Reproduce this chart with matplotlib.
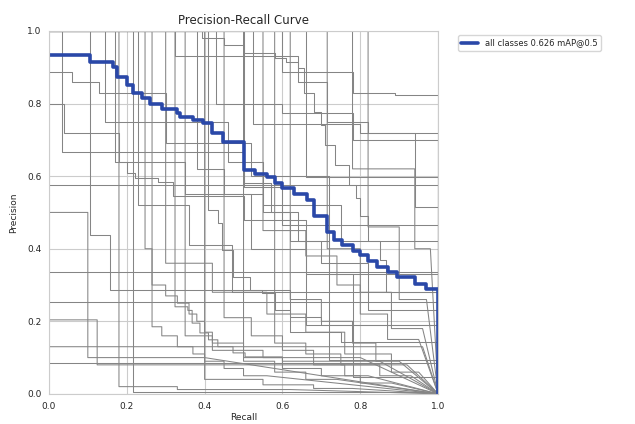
import matplotlib
matplotlib.use('Agg')
import matplotlib.pyplot as plt
import seaborn as sns

# all-classes curve (step edges in recall, precision on each step)
all_recall = [0, 0.105, 0.165, 0.175, 0.20, 0.216, 0.24, 0.26, 0.29, 0.33,
              0.337, 0.37, 0.396, 0.42, 0.447, 0.50, 0.53, 0.56, 0.58, 0.60,
              0.63, 0.663, 0.68, 0.714, 0.733, 0.753, 0.78, 0.80, 0.82, 0.843,
              0.87, 0.894, 0.94, 0.97, 1.0]
all_precision = [0.934, 0.915, 0.90, 0.873, 0.85, 0.829, 0.815, 0.80, 0.785, 0.774,
                 0.763, 0.755, 0.746, 0.72, 0.695, 0.617, 0.605, 0.598, 0.58, 0.567,
                 0.55, 0.534, 0.49, 0.446, 0.424, 0.41, 0.395, 0.383, 0.365, 0.35,
                 0.335, 0.322, 0.303, 0.29]
map50 = 0.626

# per-class curves
class_recall = [
    [0, 1.0],
    [0, 1.0],
    [0, 1.0],
    [0, 0.96],
    [0, 1.0],
    [0, 0.124, 0.92],
    [0, 0.105, 0.157, 0.62, 0.75, 1.0],
    [0, 0.033, 0.50, 0.60, 1.0],
    [0, 0.144, 0.46, 0.55, 0.75, 1.0],
    [0, 0.17, 0.20, 0.22, 0.28, 0.32, 0.50, 0.66, 1.0],
    [0, 0.216, 1.0],
    [0, 0.247, 0.265, 0.30, 0.33, 0.36, 0.38, 0.40, 0.42, 0.50, 0.55, 0.80],
    [0, 0.265, 0.29, 0.33, 0.37, 0.40, 0.45, 0.50, 0.56],
    [0, 0.324, 0.357, 0.368, 0.388, 0.41, 0.434, 0.473, 0.504, 0.60, 0.85],
    [0, 0.41, 0.434, 0.445, 0.473, 0.517, 0.548, 0.58, 0.62, 0.70, 1.0],
    [0, 0.393, 0.45, 0.50, 0.58, 0.61, 0.64, 0.655, 0.68, 0.70, 0.71, 0.735,
     0.77, 0.79, 0.80, 0.82, 0.85, 0.865, 1.0],
    [0, 0.60, 0.78, 0.89, 1.0],
    [0, 0.325, 0.64, 0.715, 0.82, 1.0],
    [0, 0.43, 0.60, 0.78, 1.0],
    [0, 0.525, 0.80, 0.94, 1.0],
    [0, 0.66, 1.0],
    [0, 0.10, 0.40],
    [0, 0.38, 0.45, 0.55, 0.62, 0.70, 0.82, 1.0],
    [0, 0.50, 0.57, 0.64, 0.72, 0.78, 1.0],
    [0, 0.55, 0.66, 0.74, 0.80, 0.87, 0.95],
    [0, 0.715, 0.80, 0.88, 0.96],
    [0, 0.62, 0.70, 0.78, 0.84, 0.90],
    [0, 0.45, 0.52, 0.60, 0.68, 0.76, 0.82],
    [0, 0.35, 0.42, 0.50, 0.58, 0.66, 0.74],
    [0, 0.82, 0.90, 0.97],
    [0, 0.78, 0.94, 0.98],
    [0, 0.23, 0.36, 0.47, 1.0],
    [0, 0.04, 0.18, 0.35, 0.52, 0.66, 1.0],
    [0, 0.06, 0.13, 0.30, 0.52, 0.72, 1.0],
    [0, 0.30, 0.42, 0.56, 0.66, 0.76, 0.88, 0.95],
    [0, 0.50, 0.60, 0.70, 0.80, 0.88],
    [0, 0.58, 0.66, 0.75, 0.85, 0.93],
    [0, 0.40, 0.55, 0.68, 0.78],
    [0, 0.18, 0.33, 0.62],
]
class_precision = [
    [0.576],
    [0.336],
    [0.253],
    [0.13],
    [0.085],
    [0.204, 0.08],
    [1.0, 0.438, 0.287, 0.17, 0.143],
    [1.0, 0.667, 0.57, 0.466],
    [1.0, 0.75, 0.64, 0.52, 0.42],
    [1.0, 0.64, 0.61, 0.595, 0.584, 0.545, 0.48, 0.33],
    [1.0, 0.005],
    [1.0, 0.40, 0.30, 0.27, 0.25, 0.22, 0.20, 0.17, 0.14, 0.12, 0.10],
    [1.0, 0.185, 0.16, 0.13, 0.11, 0.09, 0.07, 0.05],
    [1.0, 0.24, 0.23, 0.195, 0.168, 0.149, 0.13, 0.113, 0.102, 0.09],
    [1.0, 0.507, 0.47, 0.397, 0.322, 0.287, 0.278, 0.231, 0.212, 0.19],
    [1.0, 0.98, 0.96, 0.94, 0.925, 0.915, 0.898, 0.83, 0.777, 0.741, 0.686,
     0.63, 0.576, 0.54, 0.49, 0.42, 0.37, 0.28],
    [1.0, 0.887, 0.83, 0.824],
    [1.0, 0.93, 0.86, 0.75, 0.72],
    [1.0, 0.80, 0.775, 0.70],
    [1.0, 0.745, 0.72, 0.515],
    [1.0, 0.598],
    [0.50, 0.10],
    [1.0, 0.62, 0.55, 0.50, 0.42, 0.36, 0.23],
    [1.0, 0.58, 0.50, 0.42, 0.33, 0.047],
    [1.0, 0.45, 0.38, 0.30, 0.22, 0.15],
    [1.0, 0.40, 0.28, 0.18],
    [1.0, 0.26, 0.20, 0.14, 0.09],
    [1.0, 0.21, 0.16, 0.12, 0.08, 0.05],
    [1.0, 0.16, 0.12, 0.09, 0.06, 0.04],
    [1.0, 0.46, 0.26],
    [1.0, 0.62, 0.40],
    [1.0, 0.52, 0.41, 0.28],
    [0.80, 0.72, 0.64, 0.55, 0.40, 0.19],
    [0.887, 0.86, 0.83, 0.69, 0.60, 0.094],
    [1.0, 0.36, 0.28, 0.22, 0.17, 0.11, 0.06],
    [1.0, 0.10, 0.07, 0.05, 0.03],
    [1.0, 0.14, 0.11, 0.08, 0.05],
    [1.0, 0.04, 0.025, 0.015],
    [1.0, 0.02, 0.012],
]


def step_xy(rec, prec, tail=True):
    # stair from the step edges, then straight on to (1, 0) like the interp in the AP code
    xs, ys = [], []
    for i, p in enumerate(prec):
        xs += [rec[i], rec[i + 1]]
        ys += [p, p]
    if tail:
        xs.append(1.0)
        ys.append(0.0)
    return xs, ys


sns.set_style('whitegrid')
plt.rcParams['font.family'] = ['DejaVu Sans']

fig = plt.figure(figsize=(6.35, 4.24), dpi=100)
ax = fig.add_axes([0.077, 0.071, 0.613, 0.856])

for rec, prec in zip(class_recall, class_precision):
    x, y = step_xy(rec, prec)
    ax.plot(x, y, color='#858585', linewidth=0.75)

x, y = step_xy(all_recall, all_precision)
ax.plot(x, y, color='#2a48a8', linewidth=2.6, label='all classes %.3f mAP@0.5' % map50)

ax.set_xlim(0, 1)
ax.set_ylim(0, 1)
ax.set_xticks([0, 0.2, 0.4, 0.6, 0.8, 1.0])
ax.set_yticks([0, 0.2, 0.4, 0.6, 0.8, 1.0])
ax.tick_params(labelsize=6.5, pad=2)
ax.set_xlabel('Recall', fontsize=6.5, labelpad=2)
ax.set_ylabel('Precision', fontsize=6.5, labelpad=6)
ax.set_title('Precision-Recall Curve', fontsize=8.5, pad=5)
ax.legend(bbox_to_anchor=(1.04, 1), loc='upper left', fontsize=6, frameon=True)

fig.savefig('out.png', dpi=100)
